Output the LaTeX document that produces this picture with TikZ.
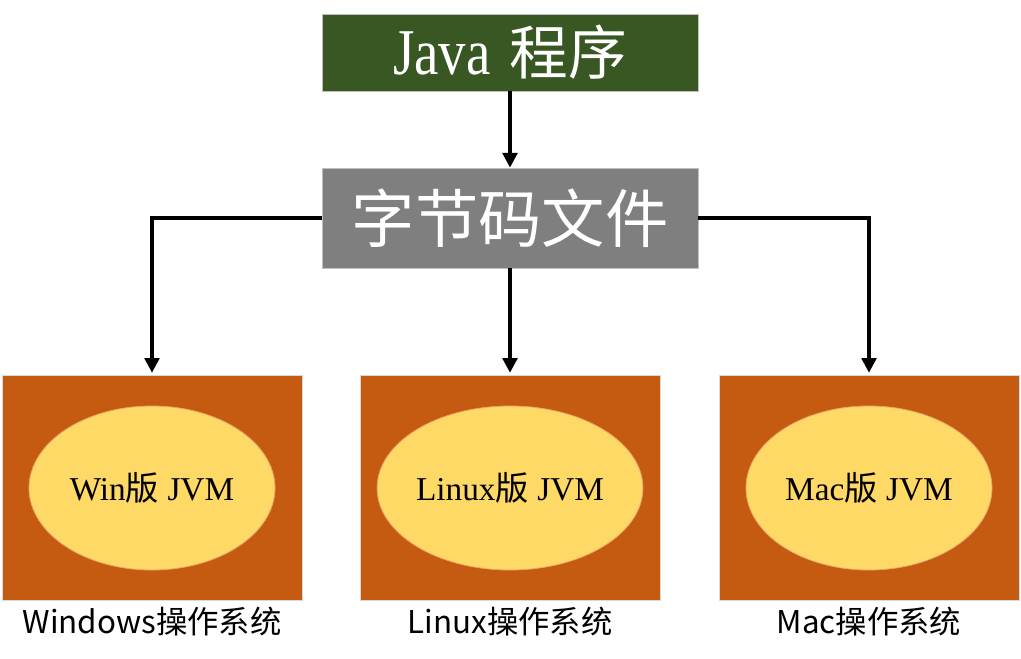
\documentclass[tikz,border=0pt]{standalone}
\usepackage{fontspec}
\usepackage{graphicx}
\setmainfont{Liberation Serif}
\newfontfamily\cjk{Noto Sans CJK SC}
\usetikzlibrary{shapes.geometric,arrows.meta}
\definecolor{jgreen}{HTML}{385723}
\definecolor{jgray}{HTML}{7F7F7F}
\definecolor{jorange}{HTML}{C55A11}
\definecolor{jyellow}{HTML}{FFD966}
\definecolor{jedge}{HTML}{E9A66A}
\tikzset{
  topbox/.style={rectangle, draw=black!25, line width=0.6pt, inner sep=0pt, minimum width=282pt, text=white},
  osbox/.style={rectangle, draw=black!15, line width=0.4pt, fill=jorange, inner sep=0pt, minimum width=225pt, minimum height=168.75pt},
  jvm/.style={ellipse, draw=jedge, line width=0.6pt, fill=jyellow, inner sep=0pt, minimum width=184.5pt, minimum height=123pt, font=\fontsize{25}{29}\selectfont},
  oslabel/.style={font=\cjk\fontsize{23.5}{27}\selectfont, inner sep=0pt},
  conn/.style={line width=2.5pt, -{Triangle[width=11pt,length=11pt]}}
}
\begin{document}
\begin{tikzpicture}[x=0.75pt,y=-0.75pt]
\useasboundingbox (0,0) rectangle (1021,658);
\node[topbox, fill=jgreen, minimum height=57.75pt] (java) at (510,52.5)
  {\fontsize{49}{54}\selectfont\scalebox{0.84}[1]{Java}\hspace{14pt}{\cjk\fontsize{44}{50}\selectfont 程序}};
\node[topbox, fill=jgray, minimum height=75pt] (byte) at (510,218)
  {\cjk\fontsize{47.5}{54}\selectfont 字节码文件};
\node[osbox] (win) at (152,487.5) {};
\node[osbox] (lin) at (510.5,487.5) {};
\node[osbox] (mac) at (869,487.5) {};
\node[jvm] (wjvm) at (152,488) {Win{\cjk 版} JVM};
\node[jvm] (ljvm) at (510,488) {Linux{\cjk 版} JVM};
\node[jvm] (mjvm) at (869,488) {Mac{\cjk 版} JVM};
\node[oslabel] (wl) at (152,622) {Windows操作系统};
\node[oslabel] (ll) at (510,622) {Linux操作系统};
\node[oslabel] (ml) at (869,622) {Mac操作系统};
\draw[conn] (java.south) -- (byte.north);
\draw[conn] (byte.west) -| ([yshift=1.5pt]win.north);
\draw[conn] (byte.south) -- ([yshift=1.5pt]byte.south |- lin.north);
\draw[conn] (byte.east) -| ([yshift=1.5pt]mac.north);
\end{tikzpicture}
\end{document}
